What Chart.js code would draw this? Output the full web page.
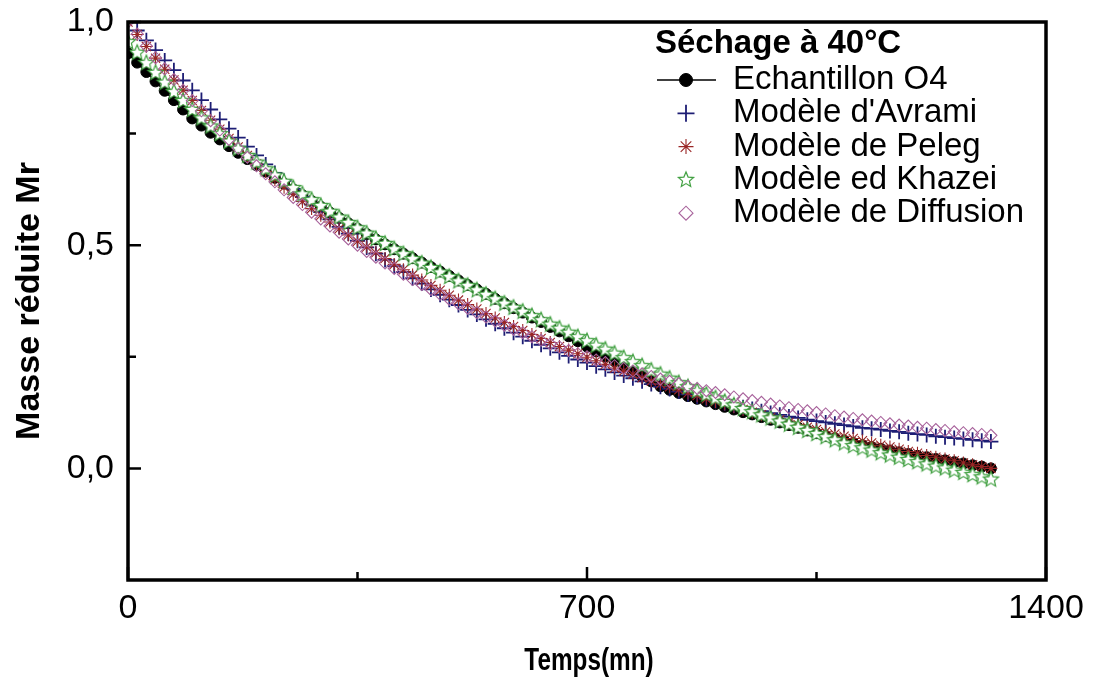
<!DOCTYPE html>
<html>
<head>
<meta charset="utf-8">
<script src="https://cdn.jsdelivr.net/npm/chart.js@4.4.1/dist/chart.umd.min.js"></script>
<style>
  html, body { margin: 0; padding: 0; background: #fff; }
  #wrap { width: 1094px; height: 679px; }
</style>
</head>
<body>
<div id="wrap"><canvas id="chart" width="1094" height="679"></canvas></div>
<script>
// Temps (mn)
const temps = [0, 14, 28, 42, 56, 70, 84, 98, 112, 126, 140, 154, 168, 182, 196, 210, 224, 238, 252, 266,
  280, 294, 308, 322, 336, 350, 364, 378, 392, 406, 420, 434, 448, 462, 476, 490, 504, 518, 532, 546,
  560, 574, 588, 602, 616, 630, 644, 658, 672, 686, 700, 714, 728, 742, 756, 770, 784, 798, 812, 826,
  840, 854, 868, 882, 896, 910, 924, 938, 952, 966, 980, 994, 1008, 1022, 1036, 1050, 1064, 1078, 1092, 1106,
  1120, 1134, 1148, 1162, 1176, 1190, 1204, 1218, 1232, 1246, 1260, 1274, 1288, 1302, 1316];

// Masse reduite Mr
const echantillon = [0.930, 0.909, 0.888, 0.867, 0.846, 0.825, 0.804, 0.784, 0.768, 0.752,
  0.737, 0.722, 0.707, 0.693, 0.679, 0.665, 0.651, 0.638, 0.625, 0.612,
  0.599, 0.586, 0.573, 0.561, 0.549, 0.537, 0.525, 0.513, 0.502, 0.491,
  0.481, 0.471, 0.461, 0.451, 0.441, 0.431, 0.421, 0.411, 0.401, 0.391,
  0.380, 0.370, 0.359, 0.349, 0.338, 0.328, 0.317, 0.307, 0.296, 0.285,
  0.273, 0.262, 0.251, 0.240, 0.229, 0.217, 0.206, 0.195, 0.184, 0.176,
  0.169, 0.162, 0.156, 0.150, 0.144, 0.138, 0.132, 0.126, 0.121, 0.115,
  0.109, 0.103, 0.097, 0.091, 0.085, 0.079, 0.073, 0.067, 0.062, 0.057,
  0.052, 0.048, 0.044, 0.040, 0.036, 0.032, 0.028, 0.025, 0.021, 0.018,
  0.014, 0.011, 0.007, 0.004, 0.000];

const avrami = [1.000, 0.981, 0.959, 0.937, 0.914, 0.892, 0.869, 0.847, 0.825, 0.804,
  0.782, 0.761, 0.741, 0.721, 0.701, 0.681, 0.662, 0.644, 0.626, 0.608,
  0.591, 0.574, 0.558, 0.541, 0.526, 0.510, 0.495, 0.481, 0.467, 0.453,
  0.440, 0.426, 0.414, 0.401, 0.389, 0.378, 0.366, 0.355, 0.345, 0.334,
  0.324, 0.314, 0.304, 0.295, 0.286, 0.277, 0.269, 0.260, 0.252, 0.244,
  0.237, 0.229, 0.222, 0.215, 0.208, 0.202, 0.195, 0.189, 0.183, 0.178,
  0.172, 0.166, 0.161, 0.156, 0.151, 0.146, 0.141, 0.137, 0.133, 0.128,
  0.124, 0.120, 0.116, 0.113, 0.109, 0.106, 0.103, 0.100, 0.097, 0.094,
  0.091, 0.089, 0.087, 0.084, 0.082, 0.079, 0.077, 0.075, 0.072, 0.070,
  0.068, 0.066, 0.064, 0.062, 0.060];

const peleg = [1.000, 0.972, 0.945, 0.919, 0.894, 0.870, 0.847, 0.824, 0.802, 0.780,
  0.760, 0.739, 0.720, 0.701, 0.682, 0.665, 0.647, 0.630, 0.614, 0.598,
  0.582, 0.567, 0.552, 0.537, 0.523, 0.509, 0.496, 0.483, 0.470, 0.457,
  0.445, 0.433, 0.422, 0.410, 0.399, 0.388, 0.377, 0.367, 0.357, 0.347,
  0.337, 0.327, 0.318, 0.309, 0.300, 0.291, 0.282, 0.273, 0.265, 0.257,
  0.249, 0.241, 0.233, 0.225, 0.218, 0.211, 0.203, 0.196, 0.189, 0.183,
  0.176, 0.169, 0.163, 0.156, 0.150, 0.144, 0.138, 0.132, 0.126, 0.120,
  0.114, 0.109, 0.103, 0.098, 0.092, 0.087, 0.082, 0.077, 0.072, 0.067,
  0.062, 0.057, 0.052, 0.048, 0.043, 0.038, 0.034, 0.029, 0.025, 0.021,
  0.017, 0.012, 0.008, 0.004, 0.000];

const khazei = [0.955, 0.931, 0.908, 0.886, 0.864, 0.843, 0.823, 0.803, 0.784, 0.766,
  0.749, 0.732, 0.716, 0.700, 0.685, 0.670, 0.656, 0.642, 0.628, 0.614,
  0.601, 0.588, 0.575, 0.562, 0.550, 0.538, 0.526, 0.514, 0.503, 0.491,
  0.480, 0.469, 0.459, 0.449, 0.439, 0.429, 0.419, 0.409, 0.399, 0.389,
  0.379, 0.369, 0.360, 0.351, 0.341, 0.332, 0.322, 0.313, 0.304, 0.294,
  0.285, 0.275, 0.266, 0.257, 0.247, 0.238, 0.229, 0.219, 0.210, 0.201,
  0.191, 0.182, 0.173, 0.165, 0.157, 0.149, 0.141, 0.133, 0.126, 0.119,
  0.112, 0.105, 0.098, 0.091, 0.084, 0.077, 0.070, 0.063, 0.056, 0.050,
  0.045, 0.040, 0.034, 0.029, 0.024, 0.019, 0.014, 0.009, 0.004, 0.000,
  -0.005, -0.010, -0.015, -0.020, -0.025];

const diffusion = [1.000, 0.973, 0.946, 0.920, 0.895, 0.871, 0.847, 0.824, 0.801, 0.779,
  0.758, 0.737, 0.717, 0.697, 0.678, 0.660, 0.642, 0.624, 0.607, 0.591,
  0.574, 0.559, 0.543, 0.529, 0.514, 0.500, 0.486, 0.473, 0.460, 0.448,
  0.435, 0.423, 0.412, 0.401, 0.390, 0.379, 0.369, 0.359, 0.349, 0.339,
  0.330, 0.321, 0.312, 0.304, 0.295, 0.287, 0.279, 0.272, 0.264, 0.257,
  0.250, 0.243, 0.237, 0.230, 0.224, 0.218, 0.212, 0.206, 0.200, 0.195,
  0.190, 0.184, 0.179, 0.174, 0.170, 0.165, 0.160, 0.156, 0.152, 0.148,
  0.144, 0.140, 0.136, 0.132, 0.129, 0.125, 0.122, 0.118, 0.115, 0.112,
  0.109, 0.106, 0.103, 0.100, 0.097, 0.095, 0.092, 0.090, 0.087, 0.085,
  0.082, 0.080, 0.078, 0.076, 0.074];

const seriesNames = ['Echantillon O4', "Modèle d'Avrami", 'Modèle de Peleg', 'Modèle ed Khazei', 'Modèle de Diffusion'];
const legendTitle = 'Séchage à 40°C';
const xTitle = 'Temps(mn)';

const xTicks = [0, 700, 1400];
const xLabels = ['0', '700', '1400'];
const xMinor = [350, 1050];
const yTicks = [0, 0.5, 1];
const yLabels = ['0,0', '0,5', '1,0'];
const yMinor = [0.25, 0.75];

const FONT = "'Liberation Sans', Arial, Helvetica, sans-serif";

function pts(values) {
  return values.map((v, i) => ({ x: temps[i], y: v }));
}

// white star with green outline, used for the Khazei points
function makeStar(r) {
  const c = document.createElement('canvas');
  const size = Math.ceil(2 * r + 4);
  c.width = size; c.height = size;
  const g = c.getContext('2d');
  const cx = size / 2, cy = size / 2;
  g.beginPath();
  for (let k = 0; k < 10; k++) {
    const rad = k % 2 === 0 ? r : r * 0.45;
    const a = -Math.PI / 2 + k * Math.PI / 5;
    const px = cx + rad * Math.cos(a), py = cy + rad * Math.sin(a);
    if (k === 0) g.moveTo(px, py); else g.lineTo(px, py);
  }
  g.closePath();
  g.fillStyle = '#fff';
  g.fill();
  g.strokeStyle = '#3f9f3f';
  g.lineWidth = 1.2;
  g.stroke();
  return c;
}
const starImg = makeStar(8);

// box frame, inward ticks and the condensed x title
const frame = {
  id: 'frame',
  afterDatasetsDraw(chart) {
    const { ctx, chartArea: a, scales: { x, y } } = chart;
    ctx.save();
    ctx.strokeStyle = '#000';
    ctx.lineWidth = 2.5;
    ctx.beginPath();
    xTicks.forEach(v => { const p = x.getPixelForValue(v); ctx.moveTo(p, a.bottom); ctx.lineTo(p, a.bottom - 13); });
    xMinor.forEach(v => { const p = x.getPixelForValue(v); ctx.moveTo(p, a.bottom); ctx.lineTo(p, a.bottom - 8); });
    yTicks.forEach(v => { const p = y.getPixelForValue(v); ctx.moveTo(a.left, p); ctx.lineTo(a.left + 13, p); });
    yMinor.forEach(v => { const p = y.getPixelForValue(v); ctx.moveTo(a.left, p); ctx.lineTo(a.left + 8, p); });
    ctx.stroke();
    ctx.lineWidth = 3.5;
    ctx.strokeRect(a.left, a.top, a.right - a.left, a.bottom - a.top);

    // x title, squeezed like the original
    ctx.translate((a.left + a.right) / 2 + 2, 661);
    ctx.scale(0.76, 1);
    ctx.font = 'bold 32px ' + FONT;
    ctx.fillStyle = '#000';
    ctx.textAlign = 'center';
    ctx.textBaseline = 'middle';
    ctx.fillText(xTitle, 0, 0);
    ctx.restore();
  }
};

// legend drawn inside the plot, top right
const legendBox = {
  id: 'legendBox',
  afterDraw(chart) {
    const ctx = chart.ctx;
    ctx.save();
    ctx.textBaseline = 'middle';
    ctx.textAlign = 'left';
    ctx.fillStyle = '#000';
    ctx.font = 'bold 33px ' + FONT;
    ctx.fillText(legendTitle, 655, 44);
    ctx.font = '33px ' + FONT;
    chart.data.datasets.forEach((ds, i) => {
      const yy = 80 + i * 33.3;
      if (ds.showLine) {
        ctx.strokeStyle = ds.borderColor;
        ctx.lineWidth = 1.5;
        ctx.beginPath();
        ctx.moveTo(657, yy);
        ctx.lineTo(716, yy);
        ctx.stroke();
      }
      ctx.fillStyle = ds.pointBackgroundColor || 'rgba(0,0,0,0)';
      ctx.strokeStyle = ds.pointBorderColor || '#000';
      ctx.lineWidth = ds.pointBorderWidth;
      Chart.helpers.drawPoint(ctx, {
        pointStyle: ds.pointStyle,
        radius: ds.pointRadius + 1,
        rotation: 0,
        borderWidth: ds.pointBorderWidth
      }, 686, yy);
      ctx.fillStyle = '#000';
      ctx.fillText(ds.label, 733, yy);
    });
    ctx.restore();
  }
};

new Chart(document.getElementById('chart'), {
  type: 'scatter',
  data: {
    datasets: [
      {
        label: seriesNames[0], data: pts(echantillon), showLine: true,
        borderColor: '#000', borderWidth: 2,
        pointStyle: 'circle', pointRadius: 5.5,
        pointBackgroundColor: '#000', pointBorderColor: '#000', pointBorderWidth: 1,
        order: 5
      },
      {
        label: seriesNames[1], data: pts(avrami), showLine: false,
        pointStyle: 'cross', pointRadius: 7.5,
        pointBorderColor: '#1d1d74', pointBorderWidth: 1.8,
        order: 4
      },
      {
        label: seriesNames[2], data: pts(peleg), showLine: false,
        pointStyle: 'star', pointRadius: 6.5,
        pointBorderColor: '#9a2626', pointBorderWidth: 1.1,
        order: 3
      },
      {
        label: seriesNames[3], data: pts(khazei), showLine: false,
        pointStyle: starImg, pointRadius: 7,
        pointBorderColor: '#3f9f3f', pointBorderWidth: 1,
        order: 2
      },
      {
        label: seriesNames[4], data: pts(diffusion), showLine: false,
        pointStyle: 'rectRot', pointRadius: 6,
        pointBackgroundColor: 'rgba(0,0,0,0)', pointBorderColor: '#a8639c', pointBorderWidth: 1.1,
        order: 1
      }
    ]
  },
  options: {
    responsive: false,
    animation: false,
    devicePixelRatio: 1,
    layout: { padding: { left: 0, right: 48, top: 22, bottom: 0 } },
    plugins: {
      legend: { display: false },
      tooltip: { enabled: false }
    },
    scales: {
      x: {
        type: 'linear', min: 0, max: 1400,
        afterBuildTicks: s => { s.ticks = xTicks.map(v => ({ value: v })); },
        afterFit: s => { s.height = 99; s.paddingLeft = 0; s.paddingRight = 0; },
        ticks: {
          callback: (v, i) => xLabels[i],
          font: { family: FONT, size: 34 }, color: '#000', padding: 8, maxRotation: 0, autoSkip: false
        },
        grid: { display: false, drawTicks: false },
        border: { display: false }
      },
      y: {
        type: 'linear', min: -0.25, max: 1,
        afterBuildTicks: s => { s.ticks = yTicks.map(v => ({ value: v })); },
        afterFit: s => { s.width = 128; s.paddingTop = 0; s.paddingBottom = 0; },
        ticks: {
          callback: (v, i) => yLabels[i],
          font: { family: FONT, size: 34 }, color: '#000', padding: 14, autoSkip: false
        },
        grid: { display: false, drawTicks: false },
        border: { display: false },
        title: {
          display: true, text: 'Masse réduite Mr', color: '#000',
          font: { family: FONT, size: 34, weight: 'bold' },
          padding: { top: 9, bottom: 0 }
        }
      }
    }
  },
  plugins: [frame, legendBox]
});
</script>
</body>
</html>
